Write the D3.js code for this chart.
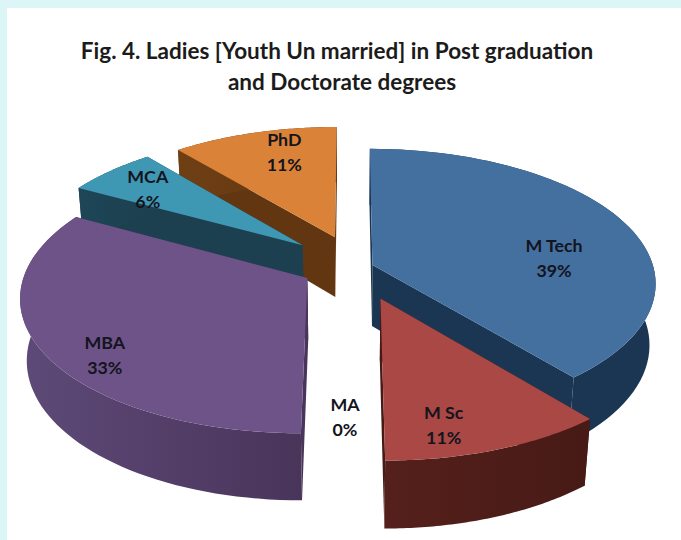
<!DOCTYPE html>
<html>
<head>
<meta charset="utf-8">
<script src="https://cdn.jsdelivr.net/npm/d3@7"></script>
<style>
  html, body { margin: 0; padding: 0; background: #fff; }
  text { font-family: Lato, "Open Sans", sans-serif; }
</style>
</head>
<body>
<div id="chart1"></div>

<script>

const categories = ["M Tech", "M Sc", "MA", "MBA", "MCA", "PhD"];
const percents = [39, 11, 0, 33, 6, 11];
const titleLines = ["Fig. 4. Ladies [Youth Un married] in Post graduation", "and Doctorate degrees"];

const width = 681;
const height = 540;

// look of each slice, same order as categories
// explode = how far the slice is pulled out, as [x, y] in pie radii
const explode = [[0.08, 0.038], [0.105, 0.285], [0, 0], [-0.15, 0.136], [-0.172, -0.115], [-0.055, -0.18]];
const topColors = ["#44709f", "#a94845", "#fff", "#6e5389", "#3f98b3", "#d98238"];
const rimLeft = ["#1b3653", "#55201b", "#fff", "#5e4a78", "#1d4656", "#6f3f14"];
const rimRight = ["#1b3653", "#471a16", "#fff", "#49345a", "#1d4050", "#623610"];
const labelNudge = [[28, 20], [-3, 42], [-5, 73], [-48, 35], [-36, -9], [0, -19]];
const titleX = [337, 342];
const drawOrder = [5, 4, 3, 0, 1];

// fake 3d: plane coords to screen, front of the pie is nearer so bigger
const cx = 350, cy = 260, rx = 279, ry = 130, persp = 0.13, depth = 62, shrink = 0.02;
function project(X, Y, z) {
  const s = 1 / (1 - persp * Y + shrink * z);
  return [cx + rx * X * s, cy + (ry * Y + depth * z) * s];
}

const svg = d3.select("#chart1").append("svg")
    .attr("width", width)
    .attr("height", height)
    .style("display", "block");

// pale frame the figure was cut out of
svg.append("rect").attr("width", width).attr("height", height).attr("fill", "#dcf6f8");
svg.append("rect").attr("x", 7).attr("y", 8).attr("width", width - 7).attr("height", height - 8).attr("fill", "#fff");

svg.selectAll(".title")
  .data(titleLines)
  .join("text")
    .attr("class", "title")
    .attr("x", (d, i) => titleX[i])
    .attr("y", (d, i) => 59 + i * 31)
    .attr("text-anchor", "middle")
    .attr("font-size", 22.5)
    .attr("font-weight", 700)
    .attr("fill", "#1b1b1b")
    .text(d => d);

const pie = d3.pie().sort(null).value(d => d);
const arcs = pie(percents);
const line = d3.line();
const defs = svg.append("defs");

function pointOn(i, angle, r, z) {
  const X = explode[i][0] + r * Math.sin(angle);
  const Y = explode[i][1] - r * Math.cos(angle);
  return project(X, Y, z);
}

drawOrder.forEach(function(i) {
  const a = arcs[i];
  const steps = d3.range(0, 61).map(k => a.startAngle + (a.endAngle - a.startAngle) * k / 60);
  const g = svg.append("g");

  const grad = defs.append("linearGradient")
      .attr("id", "rim" + i)
      .attr("gradientUnits", "userSpaceOnUse")
      .attr("x1", d3.min(steps, t => pointOn(i, t, 1, 0)[0]))
      .attr("x2", d3.max(steps, t => pointOn(i, t, 1, 0)[0]))
      .attr("y1", 0).attr("y2", 0);
  grad.append("stop").attr("offset", "0%").attr("stop-color", rimLeft[i]);
  grad.append("stop").attr("offset", "100%").attr("stop-color", rimRight[i]);

  const sideFill = "url(#rim" + i + ")";

  // the two cut faces
  [a.startAngle, a.endAngle].forEach(function(t) {
    g.append("path")
        .attr("d", line([pointOn(i, t, 0, 0), pointOn(i, t, 1, 0), pointOn(i, t, 1, 1), pointOn(i, t, 0, 1)]) + "Z")
        .attr("fill", rimRight[i]);
  });

  // outer wall
  const wall = steps.map(t => pointOn(i, t, 1, 0)).concat(steps.slice().reverse().map(t => pointOn(i, t, 1, 1)));
  g.append("path").attr("d", line(wall) + "Z").attr("fill", sideFill);

  // top
  const top = [pointOn(i, a.startAngle, 0, 0)].concat(steps.map(t => pointOn(i, t, 1, 0)));
  g.append("path").attr("d", line(top) + "Z").attr("fill", topColors[i]);
});

// labels
categories.forEach(function(name, i) {
  const a = arcs[i];
  const mid = (a.startAngle + a.endAngle) / 2;
  const p = pointOn(i, mid, 0.6, 0);
  const lx = p[0] + labelNudge[i][0];
  const ly = p[1] + labelNudge[i][1];
  const t = svg.append("text")
      .attr("text-anchor", "middle")
      .attr("font-size", 17.8)
      .attr("font-weight", 700)
      .attr("fill", "#14141e");
  t.append("tspan").attr("x", lx).attr("y", ly - 7).text(name);
  t.append("tspan").attr("x", lx).attr("y", ly + 18).text(percents[i] + "%");
});

</script>
</body>
</html>
